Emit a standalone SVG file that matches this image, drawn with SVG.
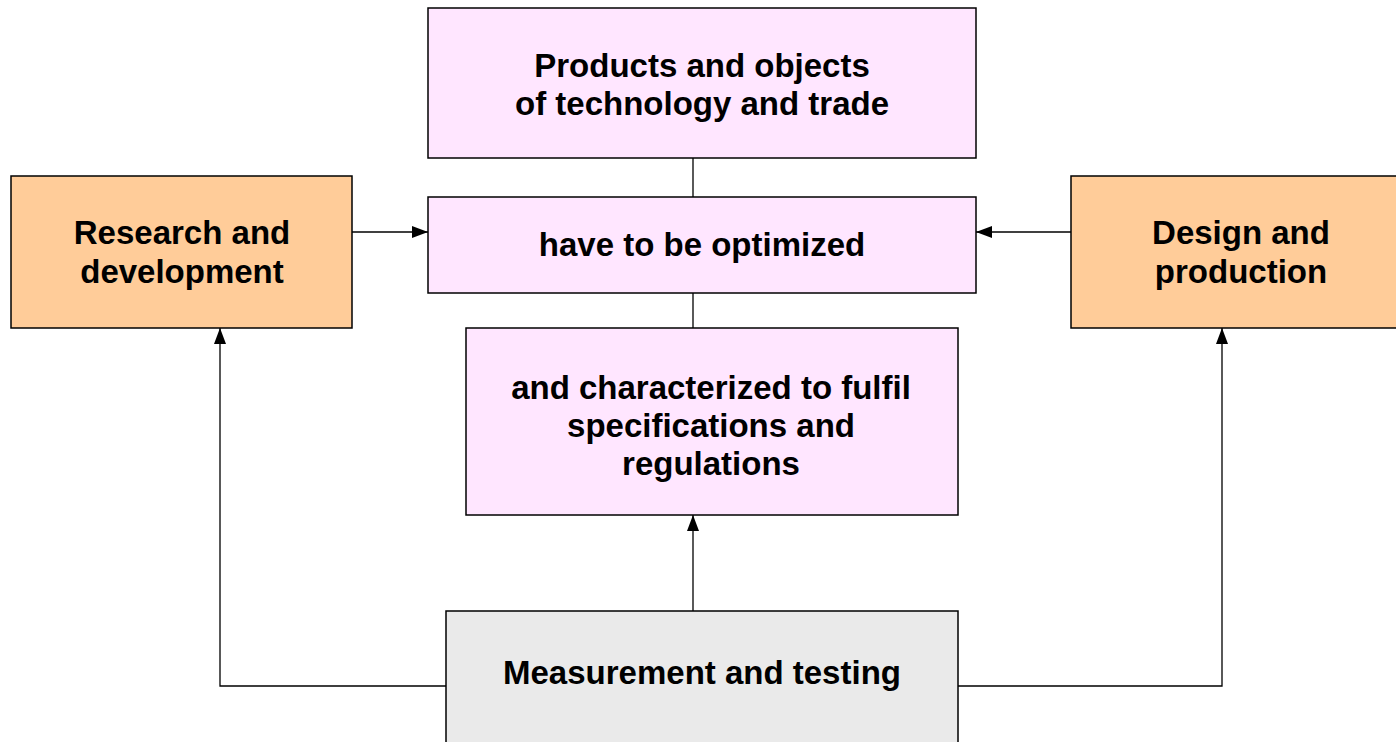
<svg xmlns="http://www.w3.org/2000/svg" width="1396" height="742" viewBox="0 0 1396 742">
<defs>
<style>
.box{stroke:#000;stroke-width:1.5}
.pink{fill:#FFE6FF}
.orange{fill:#FFCC99}
.gray{fill:#EAEAEA}
.t{font-family:"Liberation Sans",Arial,sans-serif;font-weight:bold;font-size:33px;fill:#000;text-anchor:middle}
.c{stroke:#000;stroke-width:1.3;fill:none}
</style>
<marker id="ah" viewBox="0 0 16 12" markerWidth="16" markerHeight="12" refX="16" refY="6" orient="auto" markerUnits="userSpaceOnUse">
<path d="M0,0 L16,6 L0,12 Z" fill="#000"/>
</marker>
</defs>
<rect width="1396" height="742" fill="#fff"/>
<g id="connectors">
<line class="c" x1="693" y1="158" x2="693" y2="197"/>
<line class="c" x1="693" y1="293" x2="693" y2="328"/>
<line class="c" x1="352" y1="232" x2="428" y2="232" marker-end="url(#ah)"/>
<line class="c" x1="1071" y1="232" x2="976" y2="232" marker-end="url(#ah)"/>
<line class="c" x1="693" y1="611" x2="693" y2="515" marker-end="url(#ah)"/>
<polyline class="c" points="446,686 220,686 220,328" marker-end="url(#ah)"/>
<polyline class="c" points="958,686 1222,686 1222,328" marker-end="url(#ah)"/>
</g>
<g id="products">
<rect class="box pink" x="428" y="8" width="548" height="150"/>
<text class="t" x="702" y="77">Products and objects</text>
<text class="t" x="702" y="115">of technology and trade</text>
</g>
<g id="optimized">
<rect class="box pink" x="428" y="197" width="548" height="96"/>
<text class="t" x="702" y="256">have to be optimized</text>
</g>
<g id="characterized">
<rect class="box pink" x="466" y="328" width="492" height="187"/>
<text class="t" x="711" y="399">and characterized to fulfil</text>
<text class="t" x="711" y="437">specifications and</text>
<text class="t" x="711" y="475">regulations</text>
</g>
<g id="research">
<rect class="box orange" x="11" y="176" width="341" height="152"/>
<text class="t" x="182" y="244">Research and</text>
<text class="t" x="182" y="283">development</text>
</g>
<g id="design">
<rect class="box orange" x="1071" y="176" width="340" height="152"/>
<text class="t" x="1241" y="244">Design and</text>
<text class="t" x="1241" y="283">production</text>
</g>
<g id="measurement">
<rect class="box gray" x="446" y="611" width="512" height="150"/>
<text class="t" x="702" y="684">Measurement and testing</text>
</g>
</svg>
